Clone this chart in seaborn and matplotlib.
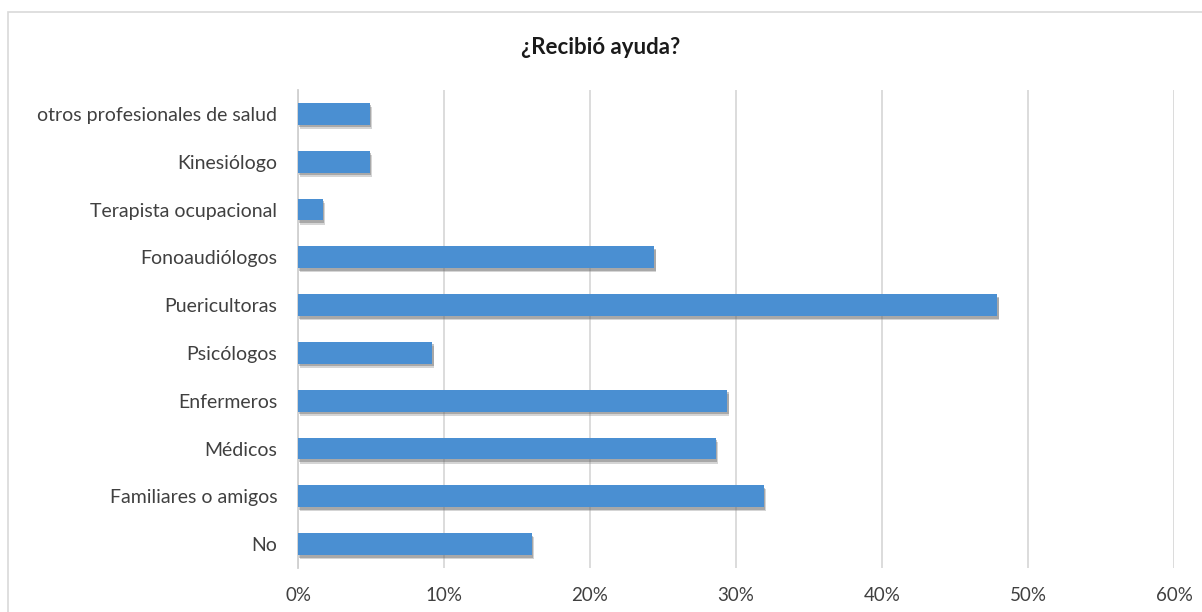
import matplotlib
matplotlib.use("Agg")
import matplotlib.pyplot as plt
import matplotlib.patheffects as pe
from matplotlib.patches import Rectangle
from matplotlib.ticker import FuncFormatter, MultipleLocator
import seaborn as sns
import pandas as pd

categories = ["otros profesionales de salud", "Kinesiólogo", "Terapista ocupacional",
              "Fonoaudiólogos", "Puericultoras", "Psicólogos", "Enfermeros",
              "Médicos", "Familiares o amigos", "No"]
values = [0.049, 0.049, 0.017, 0.244, 0.479, 0.092, 0.294, 0.286, 0.319, 0.160]
title = "¿Recibió ayuda?"

sns.set_theme(style="white")
plt.rcParams['font.family'] = ['Lato', 'DejaVu Sans']

df = pd.DataFrame({"cat": categories, "val": values})

fig = plt.figure(figsize=(12.02, 6.12), dpi=100)
ax = fig.add_axes([298/1202, 1-568/612, (1174-298)/1202, (568-90)/612])

sns.barplot(data=df, y="cat", x="val", orient="h", color="#4a8fd2",
            width=0.46, ax=ax, saturation=1, edgecolor="none")

for p in ax.patches:
    p.set_path_effects([
        pe.SimplePatchShadow(offset=(1.5, -3.0), shadow_rgbFace="#888888", alpha=0.35),
        pe.SimplePatchShadow(offset=(1.0, -1.8), shadow_rgbFace="#555555", alpha=0.35),
        pe.Normal()])
    p.set_zorder(3)

ax.set_xlim(0, 0.6)
ax.set_ylim(9.5, -0.5)
ax.xaxis.set_major_locator(MultipleLocator(0.1))
ax.xaxis.set_major_formatter(FuncFormatter(lambda v, _: f"{v*100:.0f}%"))
ax.grid(axis="x", color="#d9d9d9", linewidth=1.3, zorder=0)
ax.set_axisbelow(True)
for s in ["top", "right", "bottom"]:
    ax.spines[s].set_visible(False)
ax.spines["left"].set_color("#d0d0d0")
ax.spines["left"].set_linewidth(1.3)
ax.set_xlabel("")
ax.set_ylabel("")
ax.tick_params(axis="y", length=0, pad=15, labelsize=14, labelcolor="#404040")
ax.tick_params(axis="x", length=0, pad=14, labelsize=13.5, labelcolor="#404040")

fig.text(0.5, 1-48/612, title, ha="center", va="center", fontsize=16,
         fontweight="bold", color="#1a1a1a")

fig.patches.append(Rectangle((8/1202, -0.1), 1.2, 1-12/612+0.1, transform=fig.transFigure,
                             fill=False, edgecolor="#d9d9d9", linewidth=1.2))

fig.savefig("out.png", dpi=100)
